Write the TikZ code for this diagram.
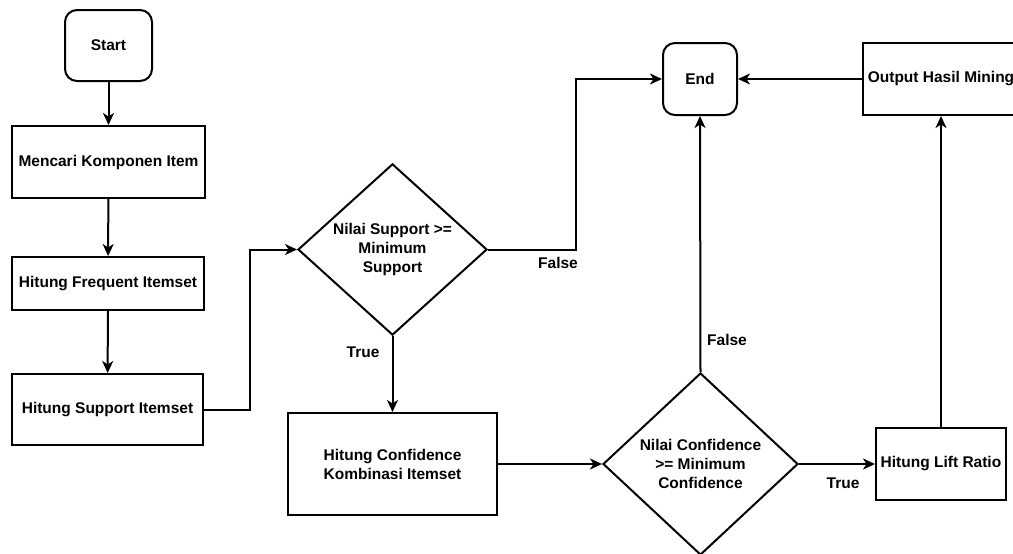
\documentclass[tikz,border=0pt]{standalone}
\usepackage{fontspec}
\setmainfont{Liberation Sans}
\usetikzlibrary{shapes.geometric, arrows.meta}

\begin{document}
\begin{tikzpicture}[
    x=1pt, y=-1pt,
    >={Stealth[length=12pt, width=11pt, inset=3.5pt]},
    every node/.style={font=\fontsize{15.5}{19}\selectfont\bfseries},
    block/.style={draw, rectangle, line width=2pt, align=center, inner sep=0pt},
    term/.style={block, rounded corners=12pt},
    cond/.style={draw, diamond, line width=2pt, align=center, inner sep=0pt},
    flow/.style={->, line width=2pt}
]
    \useasboundingbox (0,0) rectangle (1013,554);

    \node[term, minimum width=87pt, minimum height=71pt] (start) at (108.5,45.5) {Start};
    \node[block, minimum width=193pt, minimum height=72pt] (cari) at (108.5,162) {Mencari Komponen Item};
    \node[block, minimum width=192pt, minimum height=53pt] (freq) at (108,283.5) {Hitung Frequent Itemset};
    \node[block, minimum width=191pt, minimum height=71pt] (sup) at (107.5,409.5) {Hitung Support Itemset};
    \node[cond, minimum width=189pt, minimum height=168pt] (dec1) at (392.5,249.5) {Nilai Support >=\\Minimum\\Support};
    \node[block, minimum width=209pt, minimum height=102pt] (conf) at (392.5,464) {Hitung Confidence\\Kombinasi Itemset};
    \node[cond, minimum width=195pt, minimum height=182pt] (dec2) at (700.5,464) {Nilai Confidence\\>= Minimum\\Confidence};
    \node[block, minimum width=130pt, minimum height=72pt] (lift) at (941,464) {Hitung Lift Ratio};
    \node[term, minimum width=74pt, minimum height=72pt] (end) at (700,79) {End};
    \node[block, minimum width=156pt, minimum height=72pt] (out) at (941,79) {Output Hasil Mining};

    \draw[flow] (start) -- (cari);
    \draw[flow] (cari) -- (freq);
    \draw[flow] (freq) -- (sup);
    \draw[flow] (sup.east) -- ++(46,0) |- (dec1.west);
    \draw[flow] (dec1.east) -- ++(88,0) |- (end.west);
    \draw[flow] (dec1.south) -- (conf.north);
    \draw[flow] (conf.east) -- (dec2.west);
    \draw[flow] (dec2.north) -- (end.south);
    \draw[flow] (dec2.east) -- (lift.west);
    \draw[flow] (lift.north) -- (out.south);
    \draw[flow] (out.west) -- (end.east);

    \node (f1) at (558,263) {False};
    \node (t1) at (363,352) {True};
    \node (f2) at (727,340) {False};
    \node (t2) at (843,483) {True};
\end{tikzpicture}
\end{document}
